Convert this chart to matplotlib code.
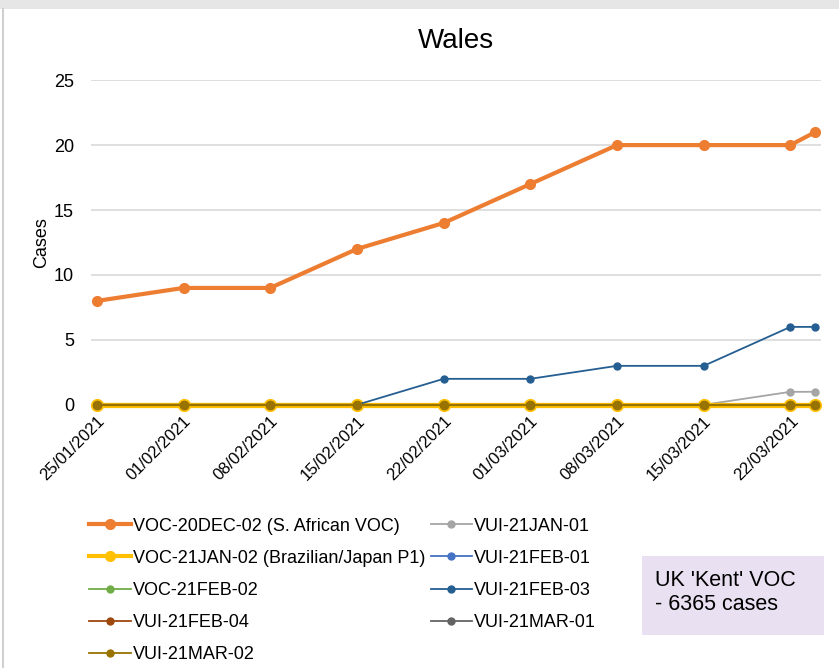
import matplotlib.pyplot as plt
import matplotlib.dates as mdates
from datetime import date

plt.rcParams['font.family'] = ['Liberation Sans', 'DejaVu Sans']

# weekly points plus the latest reading on 24/03
dates = [date(2021, 1, 25), date(2021, 2, 1), date(2021, 2, 8), date(2021, 2, 15),
         date(2021, 2, 22), date(2021, 3, 1), date(2021, 3, 8), date(2021, 3, 15),
         date(2021, 3, 22), date(2021, 3, 24)]

voc_20dec_02 = [8, 9, 9, 12, 14, 17, 20, 20, 20, 21]
vui_21jan_01 = [0, 0, 0, 0, 0, 0, 0, 0, 1, 1]
voc_21jan_02 = [0, 0, 0, 0, 0, 0, 0, 0, 0, 0]
vui_21feb_01 = [0, 0, 0, 0, 0, 0, 0, 0, 0, 0]
voc_21feb_02 = [0, 0, 0, 0, 0, 0, 0, 0, 0, 0]
vui_21feb_03 = [0, 0, 0, 0, 2, 2, 3, 3, 6, 6]
vui_21feb_04 = [0, 0, 0, 0, 0, 0, 0, 0, 0, 0]
vui_21mar_01 = [0, 0, 0, 0, 0, 0, 0, 0, 0, 0]
vui_21mar_02 = [0, 0, 0, 0, 0, 0, 0, 0, 0, 0]

# (label, values, colour, thick) in Excel drawing order
series = [
    ('VOC-20DEC-02 (S. African VOC)', voc_20dec_02, '#ED7D31', True),
    ('VUI-21JAN-01', vui_21jan_01, '#A5A5A5', False),
    ('VOC-21JAN-02 (Brazilian/Japan P1)', voc_21jan_02, '#FFC000', True),
    ('VUI-21FEB-01', vui_21feb_01, '#4472C4', False),
    ('VOC-21FEB-02', voc_21feb_02, '#70AD47', False),
    ('VUI-21FEB-03', vui_21feb_03, '#255E91', False),
    ('VUI-21FEB-04', vui_21feb_04, '#9E480E', False),
    ('VUI-21MAR-01', vui_21mar_01, '#636363', False),
    ('VUI-21MAR-02', vui_21mar_02, '#997300', False),
]

fig = plt.figure(figsize=(8.39, 6.68), dpi=100)
ax = fig.add_axes([0.108, 0.394, 0.871, 0.486])

handles = {}
for label, vals, col, thick in series:
    lw = 3.0 if thick else 1.3
    ms = 7 if thick else 5
    if label == 'VOC-21JAN-02 (Brazilian/Japan P1)':
        ax.plot(dates, vals, color=col, lw=3.8, marker='o', ms=8.5,
                clip_on=False, zorder=3)
        h, = ax.plot([], [], color=col, lw=lw, marker='o', ms=ms)
    elif label == 'VUI-21MAR-02':
        # olive sits on top of the thick yellow zero line
        ax.plot(dates, vals, color=col, lw=1.6, marker='o', ms=6,
                clip_on=False, zorder=3)
        h, = ax.plot([], [], color=col, lw=lw, marker='o', ms=ms)
    else:
        h, = ax.plot(dates, vals, color=col, lw=lw, marker='o', ms=ms,
                     clip_on=False, zorder=3)
    handles[label] = h

ax.set_ylim(0, 25)
ax.set_yticks(range(0, 26, 5))
ax.set_xlim(mdates.date2num(date(2021, 1, 25)) - 0.5,
            mdates.date2num(date(2021, 3, 24)) + 0.5)
ax.set_xticks(dates[:-1])
ax.xaxis.set_major_formatter(mdates.DateFormatter('%d/%m/%Y'))
plt.setp(ax.get_xticklabels(), rotation=45, ha='right', rotation_mode='anchor')
ax.tick_params(axis='x', labelsize=12, length=0, pad=6)
ax.tick_params(axis='y', labelsize=13, length=0, pad=12)
ax.grid(axis='y', color='#D9D9D9', lw=1.2)
ax.set_axisbelow(True)
for s in ax.spines.values():
    s.set_visible(False)

ax.set_ylabel('Cases', fontsize=13, labelpad=3)
ax.set_title('Wales', fontsize=20, pad=23)

# legend fills column by column
order = ['VOC-20DEC-02 (S. African VOC)', 'VOC-21JAN-02 (Brazilian/Japan P1)',
         'VOC-21FEB-02', 'VUI-21FEB-04', 'VUI-21MAR-02',
         'VUI-21JAN-01', 'VUI-21FEB-01', 'VUI-21FEB-03', 'VUI-21MAR-01']
fig.legend([handles[k] for k in order], order, ncol=2, frameon=False,
           fontsize=13, loc='upper left', bbox_to_anchor=(0.098, 0.236),
           handlelength=2.3, handletextpad=0.1, columnspacing=0.3,
           labelspacing=0.84, borderaxespad=0)

# purple note box
fig.patches.append(plt.Rectangle((0.765, 0.049), 0.217, 0.118,
                                 transform=fig.transFigure,
                                 fc='#E9E1F1', ec='none'))
fig.text(0.781, 0.146, "UK 'Kent' VOC\n- 6365 cases", fontsize=15.5,
         va='top', ha='left', linespacing=1.15)

# screenshot frame
fig.patches.append(plt.Rectangle((0, 0.986), 1, 0.014, transform=fig.transFigure,
                                 fc='#E6E6E6', ec='none'))
fig.lines.append(plt.Line2D([0.003, 0.003], [0, 0.986], transform=fig.transFigure,
                            color='#D0D0D0', lw=1.5))

fig.savefig('out.png', dpi=100)
